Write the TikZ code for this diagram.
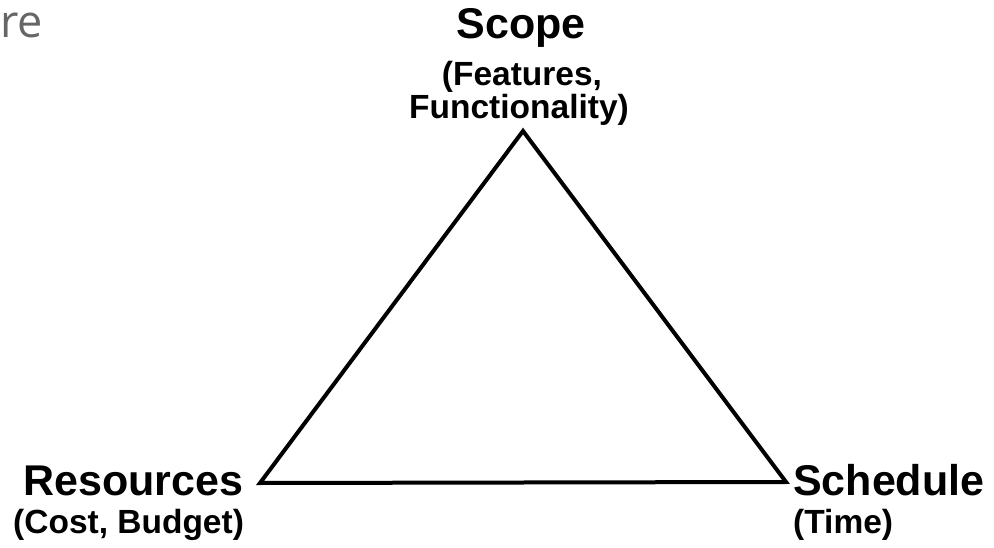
\documentclass[tikz,border=0pt]{standalone}
\usepackage{fontspec}
\setmainfont{Liberation Sans}
\newfontfamily\grayfont{Open Sans}
\tikzset{
  titletext/.style={inner sep=0pt, font=\fontsize{43}{43}\selectfont\bfseries},
  subtext/.style={inner sep=0pt, font=\fontsize{33.5}{33.5}\selectfont\bfseries},
  tri/.style={line width=4pt, line join=miter, black}
}
\begin{document}
\begin{tikzpicture}[x=1pt,y=-1pt]
\useasboundingbox (0,0) rectangle (994,548);
\fill[white] (0,0) rectangle (994,548);
\node[inner sep=0pt, anchor=base west, text=black!60, font=\fontsize{45}{45}\selectfont\grayfont] (re) at (0,38) {re};
\node[titletext, anchor=base] (scope) at (521,39) {Scope};
\node[subtext, anchor=base] (features) at (522,86) {(Features,};
\node[subtext, anchor=base] (func) at (519,119) {Functionality)};
\node[titletext, anchor=base west] (res) at (23,495) {Resources};
\node[subtext, anchor=base west] (cost) at (13,533) {(Cost, Budget)};
\node[titletext, anchor=base west] (sched) at (793,495) {Schedule};
\node[subtext, anchor=base west] (time) at (793,533) {(Time)};
\coordinate (top) at (523,131);
\coordinate (left) at (260,483);
\coordinate (right) at (786,482);
\draw[tri] (top) -- (right) -- (left) -- cycle;
\end{tikzpicture}
\end{document}
